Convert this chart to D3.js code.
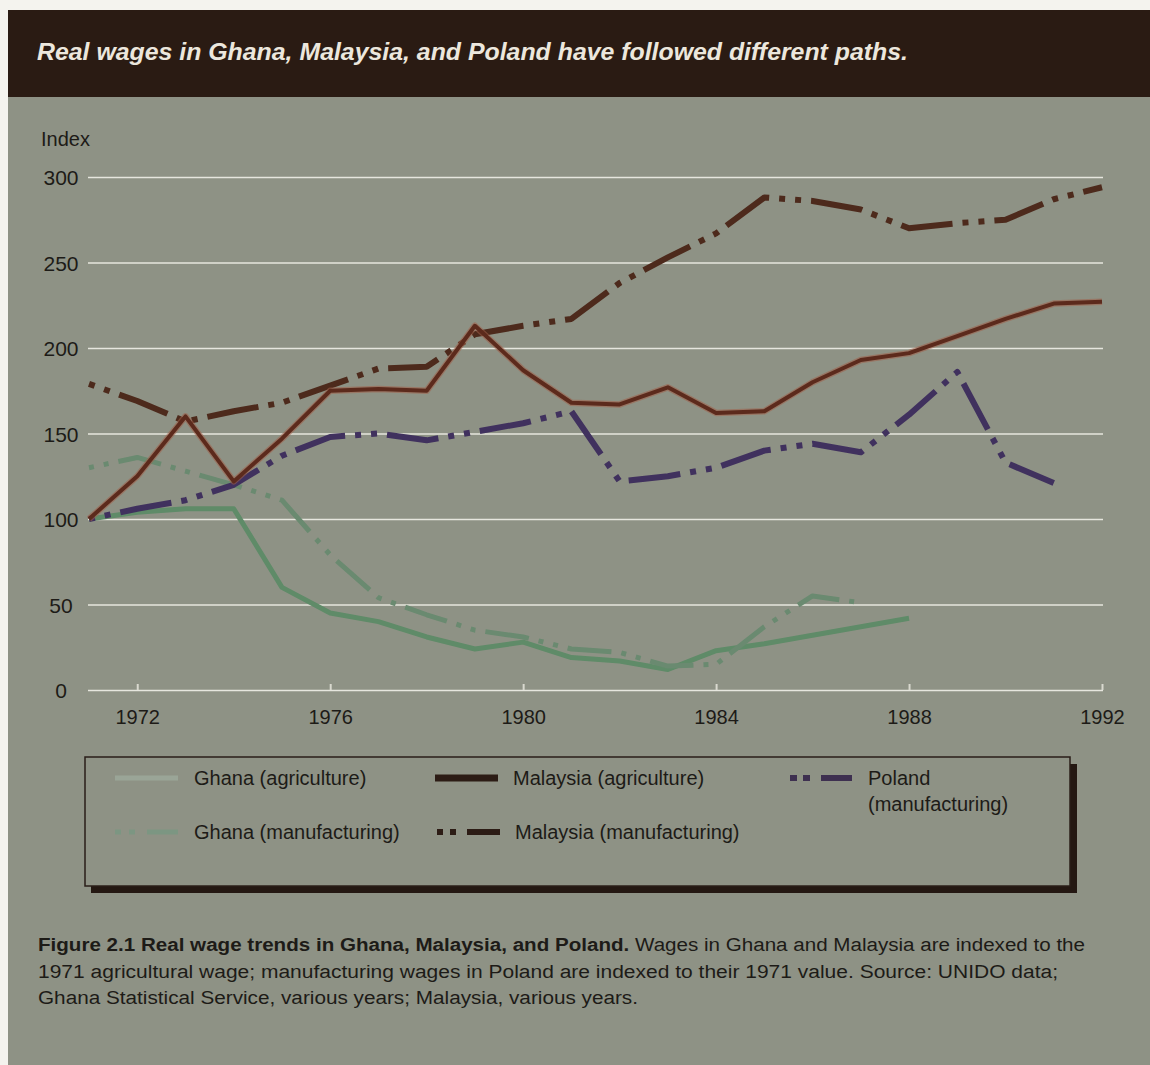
<!DOCTYPE html>
<html>
<head>
<meta charset="utf-8">
<title>Real wage trends in Ghana, Malaysia, and Poland</title>
<script src="https://cdn.jsdelivr.net/npm/d3@7"></script>
<style>
  html, body { margin: 0; padding: 0; background: #f4f3ee; }
  svg { display: block; }
  text { font-family: "Liberation Sans", Arial, sans-serif; }
</style>
</head>
<body>
<svg id="chart" width="1150" height="1065"></svg>
<script>
// ---- data -------------------------------------------------------------
const years = [1971, 1972, 1973, 1974, 1975, 1976, 1977, 1978, 1979, 1980, 1981,
               1982, 1983, 1984, 1985, 1986, 1987, 1988, 1989, 1990, 1991, 1992];

// Real wage index (1971 agricultural wage = 100; Poland: 1971 = 100)
const ghanaAgriculture      = [100, 104, 106, 106, 60, 45, 40, 31, 24, 28, 19, 17, 12, 23, 27, 32, 37, 42, null, null, null, null];
const ghanaManufacturing    = [130, 136, 128, 120, 111, 79, 54, 44, 35, 31, 24, 22, 14, 15, 37, 55, 51, null, null, null, null, null];
const malaysiaAgriculture   = [100, 125, 160, 122, 147, 175, 176, 175, 213, 187, 168, 167, 177, 162, 163, 180, 193, 197, 207, 217, 226, 227];
const malaysiaManufacturing = [179, 169, 157, 163, 168, 178, 188, 189, 208, 213, 217, 238, 253, 267, 288, 286, 281, 270, 273, 275, 287, 294];
const polandManufacturing   = [100, 106, 111, 120, 137, 148, 150, 146, 151, 156, 163, 122, 125, 130, 140, 144, 139, 161, 186, 133, 121, null];

const seriesNames = ["Ghana (agriculture)", "Ghana (manufacturing)", "Malaysia (agriculture)",
                     "Malaysia (manufacturing)", "Poland (manufacturing)"];

const yTicks = [0, 50, 100, 150, 200, 250, 300];
const xTicks = [1972, 1976, 1980, 1984, 1988, 1992];

const titleText = "Real wages in Ghana, Malaysia, and Poland have followed different paths.";
const captionBold = "Figure 2.1  Real wage trends in Ghana, Malaysia, and Poland.";
const captionLines = [
  "  Wages in Ghana and Malaysia are indexed to the",
  "1971 agricultural wage; manufacturing wages in Poland are indexed to their 1971 value.  Source: UNIDO data;",
  "Ghana Statistical Service, various years; Malaysia, various years."
];

// ---- layout & styles ----------------------------------------------------
const W = 1150, H = 1065;
const BG = "#8e9285";
const INK = "#1d1b17";

const styles = {
  "Ghana (agriculture)":      { color: "#5f8b68", width: 5, dash: null, blur: true,
                                legendColor: "#9aa597", legendDash: null, legendWidth: 5 },
  "Ghana (manufacturing)":    { color: "#6a8a70", width: 5, dash: "5,10,5,10,44,10", blur: true,
                                legendColor: "#7c9682", legendDash: "6,8,6,12,33", legendWidth: 5 },
  "Malaysia (agriculture)":   { color: "#5c2a1c", width: 4, dash: null, halo: "#a05e48",
                                legendColor: "#2c1c15", legendDash: null, legendWidth: 7 },
  "Malaysia (manufacturing)": { color: "#4d2a1c", width: 6, dash: "6,10,6,10,52,10",
                                legendColor: "#2c1c15", legendDash: "6,7,6,11,34", legendWidth: 6 },
  "Poland (manufacturing)":   { color: "#40315e", width: 6, dash: "6,10,6,10,52,10",
                                legendColor: "#3e3050", legendDash: "7,6,7,11,31", legendWidth: 6 }
};

const valuesByName = {
  "Ghana (agriculture)": ghanaAgriculture,
  "Ghana (manufacturing)": ghanaManufacturing,
  "Malaysia (agriculture)": malaysiaAgriculture,
  "Malaysia (manufacturing)": malaysiaManufacturing,
  "Poland (manufacturing)": polandManufacturing
};

const svg = d3.select("#chart");

// page, panel and title band
svg.append("rect").attr("width", W).attr("height", H).attr("fill", "#f4f3ee");
svg.append("rect").attr("x", 8).attr("y", 10).attr("width", W - 8).attr("height", H - 10).attr("fill", BG);
svg.append("rect").attr("x", 8).attr("y", 10).attr("width", W - 8).attr("height", 87).attr("fill", "#2a1b13");
svg.append("text")
  .attr("x", 37).attr("y", 60)
  .attr("fill", "#ece7dd")
  .attr("textLength", 871).attr("lengthAdjust", "spacingAndGlyphs")
  .style("font-size", "23px").style("font-weight", "bold").style("font-style", "italic")
  .text(titleText);

const defs = svg.append("defs");
defs.append("filter").attr("id", "soft")
  .attr("x", "-5%").attr("y", "-20%").attr("width", "110%").attr("height", "140%")
  .append("feGaussianBlur").attr("stdDeviation", 0.5);

// ---- scales & axes -----------------------------------------------------
const x = d3.scaleLinear().domain([1971, 1992]).range([89, 1102]);
const y = d3.scaleLinear().domain([0, 300]).range([690, 177]);

const yAxis = svg.append("g")
  .attr("transform", "translate(88,0)")
  .call(d3.axisLeft(y).tickValues(yTicks).tickSize(-(1103 - 88)).tickPadding(0));
yAxis.select(".domain").remove();
yAxis.selectAll(".tick line").attr("stroke", "#e6e6de").attr("stroke-width", 1.6);
yAxis.selectAll(".tick text")
  .attr("x", -27).attr("dy", "0.36em")
  .attr("text-anchor", "middle")
  .attr("fill", INK)
  .style("font-size", "21px")
  .style("font-family", "\"Liberation Sans\", Arial, sans-serif");

svg.append("text")
  .attr("x", 41).attr("y", 146)
  .attr("fill", INK).style("font-size", "20px")
  .text("Index");

const xAxis = svg.append("g")
  .attr("transform", "translate(0,690)")
  .call(d3.axisBottom(x).tickValues(xTicks).tickFormat(d3.format("d")).tickSize(-6).tickPadding(20));
xAxis.select(".domain").remove();
xAxis.selectAll(".tick line").attr("stroke", "#d9d9cf").attr("stroke-width", 2);
xAxis.selectAll(".tick text")
  .attr("fill", INK)
  .style("font-size", "20px")
  .style("font-family", "\"Liberation Sans\", Arial, sans-serif");

// ---- lines -------------------------------------------------------------
const line = d3.line()
  .defined(d => d[1] !== null)
  .x(d => x(d[0]))
  .y(d => y(d[1]));

const drawOrder = ["Ghana (agriculture)", "Ghana (manufacturing)", "Poland (manufacturing)",
                   "Malaysia (manufacturing)", "Malaysia (agriculture)"];

const plot = svg.append("g");
drawOrder.forEach(name => {
  const s = styles[name];
  const pts = years.map((yr, i) => [yr, valuesByName[name][i]]);
  if (s.halo) {
    plot.append("path")
      .attr("d", line(pts))
      .attr("fill", "none")
      .attr("stroke", s.halo).attr("stroke-opacity", 0.55)
      .attr("stroke-width", s.width + 2.5)
      .attr("stroke-linejoin", "round");
  }
  const p = plot.append("path")
    .attr("d", line(pts))
    .attr("fill", "none")
    .attr("stroke", s.color)
    .attr("stroke-width", s.width)
    .attr("stroke-linejoin", "round")
    .attr("stroke-linecap", "butt");
  if (s.dash) p.attr("stroke-dasharray", s.dash);
  if (s.blur) p.attr("filter", "url(#soft)");
});

// ---- legend ------------------------------------------------------------
const legend = svg.append("g");
legend.append("rect")
  .attr("x", 91).attr("y", 764).attr("width", 986).attr("height", 129)
  .attr("fill", "#241812");
legend.append("rect")
  .attr("x", 85).attr("y", 757).attr("width", 985).attr("height", 129)
  .attr("fill", BG).attr("stroke", "#2a1e18").attr("stroke-width", 1.5);

const legendSlots = {
  "Ghana (agriculture)":      { sx: 115, tx: 194, cy: 778 },
  "Malaysia (agriculture)":   { sx: 435, tx: 513, cy: 778 },
  "Poland (manufacturing)":   { sx: 790, tx: 868, cy: 778 },
  "Ghana (manufacturing)":    { sx: 115, tx: 194, cy: 832 },
  "Malaysia (manufacturing)": { sx: 437, tx: 515, cy: 832 }
};

seriesNames.forEach(name => {
  const s = styles[name];
  const slot = legendSlots[name];
  const sw = legend.append("line")
    .attr("x1", slot.sx).attr("x2", slot.sx + 63)
    .attr("y1", slot.cy).attr("y2", slot.cy)
    .attr("stroke", s.legendColor)
    .attr("stroke-width", s.legendWidth);
  if (s.legendDash) sw.attr("stroke-dasharray", s.legendDash);

  const t = legend.append("text")
    .attr("x", slot.tx).attr("y", slot.cy)
    .attr("fill", INK)
    .style("font-size", "20px");
  // the right-hand column wraps its label onto two lines
  const parts = slot.sx > 700 ? [name.slice(0, name.indexOf(" ")), name.slice(name.indexOf(" ") + 1)] : [name];
  parts.forEach((p, i) => {
    t.append("tspan").attr("x", slot.tx).attr("dy", i === 0 ? "0.35em" : "1.3em").text(p);
  });
});

// ---- caption -----------------------------------------------------------
const cap = svg.append("g").attr("fill", INK).style("font-size", "18px").style("white-space", "pre");
const c1 = cap.append("text").attr("x", 38).attr("y", 951)
  .attr("textLength", 1047).attr("lengthAdjust", "spacingAndGlyphs");
c1.append("tspan").style("font-weight", "bold").text(captionBold);
c1.append("tspan").text(captionLines[0]);
cap.append("text").attr("x", 38).attr("y", 978)
  .attr("textLength", 1020).attr("lengthAdjust", "spacingAndGlyphs")
  .text(captionLines[1]);
cap.append("text").attr("x", 38).attr("y", 1004)
  .attr("textLength", 600).attr("lengthAdjust", "spacingAndGlyphs")
  .text(captionLines[2]);
</script>
</body>
</html>
